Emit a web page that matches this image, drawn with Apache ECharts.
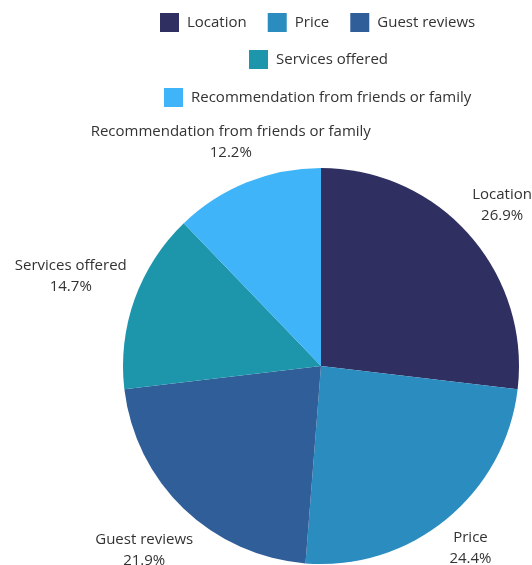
<!DOCTYPE html>
<html>
<head>
<meta charset="utf-8">
<script src="https://cdn.jsdelivr.net/npm/echarts@6/dist/echarts.min.js"></script>
<style>
  html, body { margin: 0; padding: 0; background: #ffffff; }
  #chart { width: 532px; height: 565px; }
</style>
</head>
<body>
<div id="chart"></div>
<script>
// Factors for choosing a hotel (share of respondents, %)
const categories = [
  'Location',
  'Price',
  'Guest reviews',
  'Services offered',
  'Recommendation from friends or family'
];
const shares = [26.9, 24.4, 21.9, 14.7, 12.2];
const sliceColors = ['#2f2f61', '#2b8cc0', '#2f5e99', '#1d95ab', '#40b4f8'];
// legend rows, as indexes into categories
const legendRows = [[0, 1, 2], [3], [4]];

const PIE_CENTER = [321, 366];
const PIE_RADIUS = 198;
const FONT_SIZE = 15;
const FONT = "'Open Sans', 'Noto Sans', sans-serif";
const TEXT_COLOR = '#333333';

const ICON = 19, ICON_TEXT_GAP = 8, ITEM_GAP = 21;
const legendTops = [13, 50, 88];

const total = shares.reduce((a, b) => a + b, 0);

// angle (radians, clockwise from 12 o'clock) of the middle of slice i
function midAngle(i) {
  let before = 0;
  for (let k = 0; k < i; k++) before += shares[k];
  return (before + shares[i] / 2) / total * 2 * Math.PI;
}

// each legend row is centred over the pie rather than over the page
const measureCtx = document.createElement('canvas').getContext('2d');
measureCtx.font = FONT_SIZE + 'px ' + FONT;
function rowLeft(row) {
  let width = 0;
  row.forEach((i, k) => {
    width += ICON + ICON_TEXT_GAP + measureCtx.measureText(categories[i]).width;
    if (k > 0) width += ITEM_GAP;
  });
  return Math.round(PIE_CENTER[0] - 3 - width / 2);
}

const chart = echarts.init(document.getElementById('chart'), null, { renderer: 'canvas' });

chart.setOption({
  backgroundColor: '#ffffff',
  animation: false,
  color: sliceColors,
  legend: legendRows.map((row, r) => ({
    data: row.map(i => categories[i]),
    top: legendTops[r],
    left: rowLeft(row),
    padding: 0,
    icon: 'rect',
    itemWidth: ICON,
    itemHeight: ICON,
    itemGap: ITEM_GAP,
    selectedMode: false,
    textStyle: {
      fontFamily: FONT, fontSize: FONT_SIZE, color: TEXT_COLOR,
      padding: [0, 0, 0, ICON_TEXT_GAP - 5]
    }
  })),
  series: [{
    type: 'pie',
    center: PIE_CENTER,
    radius: PIE_RADIUS,
    startAngle: 90,
    clockwise: true,
    avoidLabelOverlap: false,
    emphasis: { disabled: true },
    data: categories.map((name, i) => ({ name: name, value: shares[i] })),
    label: {
      show: true,
      position: 'outside',
      formatter: '{b}\n{c}%',
      fontFamily: FONT,
      fontSize: FONT_SIZE,
      lineHeight: 21,
      color: TEXT_COLOR
    },
    labelLine: { show: false },
    // put each label just beyond the rim, centred on the slice's middle direction;
    // very long labels are allowed to hug the rim more closely
    labelLayout: function (params) {
      const a = midAngle(params.dataIndex);
      const ux = Math.sin(a), uy = -Math.cos(a);
      const w = params.labelRect.width;
      const h = params.labelRect.height;
      const halfW = w > 200 ? 43 : Math.min(w / 2, 60);
      const d = PIE_RADIUS + 8 + Math.abs(ux) * halfW + Math.abs(uy) * h / 2;
      return {
        x: PIE_CENTER[0] + ux * d,
        y: PIE_CENTER[1] + uy * d,
        align: 'center',
        verticalAlign: 'middle'
      };
    }
  }]
});
</script>
</body>
</html>
